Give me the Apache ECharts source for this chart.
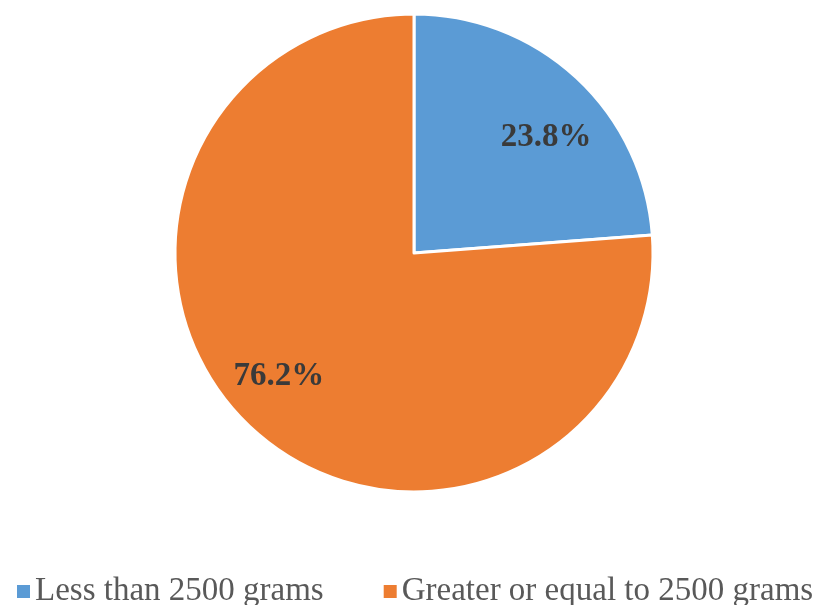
<!DOCTYPE html>
<html>
<head>
<meta charset="utf-8">
<script src="https://cdn.jsdelivr.net/npm/echarts@6/dist/echarts.min.js"></script>
<style>
  html, body { margin: 0; padding: 0; background: #fff; }
  #main { width: 820px; height: 605px; }
</style>
</head>
<body>
<div id="main"></div>
<script>
// birth weight split
var categories = ['Less than 2500 grams', 'Greater or equal to 2500 grams'];
var percents = [23.8, 76.2];
var colors = ['#5B9BD5', '#ED7D31'];

// nudges so the labels sit where the original put them
var labelNudge = [[9, 17], [-12, -9]];

var pieData = categories.map(function (name, i) {
  return { name: name, value: percents[i], itemStyle: { color: colors[i] } };
});

var chart = echarts.init(document.getElementById('main'));
chart.setOption({
  backgroundColor: '#ffffff',
  animation: false,
  legend: {
    data: categories,
    top: 570,
    left: 12,
    icon: 'rect',
    itemWidth: 13,
    itemHeight: 13,
    itemGap: 60,
    itemStyle: { borderWidth: 0 },
    textStyle: {
      fontFamily: 'Liberation Serif',
      fontSize: 33,
      color: '#595959'
    }
  },
  series: [
    {
      type: 'pie',
      center: [414, 253],
      radius: [0, 239],
      startAngle: 90,
      clockwise: true,
      data: pieData,
      itemStyle: { borderColor: '#ffffff', borderWidth: 3 },
      label: { show: false },
      labelLine: { show: false },
      silent: true
    },
    {
      // transparent ring only used to place the labels
      type: 'pie',
      center: [414, 253],
      radius: [117, 239],
      startAngle: 90,
      clockwise: true,
      data: categories.map(function (name, i) {
        return { name: name, value: percents[i], label: { offset: labelNudge[i] } };
      }),
      itemStyle: { color: 'rgba(0,0,0,0)' },
      label: {
        show: true,
        position: 'inside',
        formatter: function (p) { return p.value.toFixed(1) + '%'; },
        fontFamily: 'Liberation Serif',
        fontWeight: 'bold',
        fontSize: 33,
        color: '#3a3a3a'
      },
      labelLine: { show: false },
      silent: true
    }
  ]
});
</script>
</body>
</html>
